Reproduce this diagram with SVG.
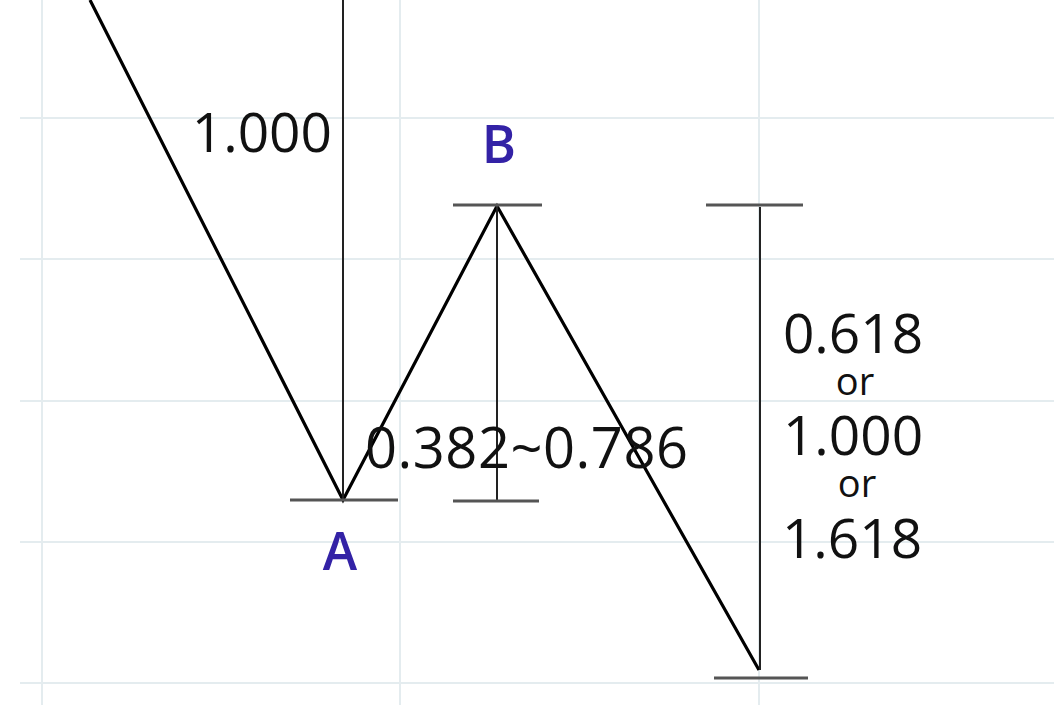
<svg xmlns="http://www.w3.org/2000/svg" width="1054" height="705" viewBox="0 0 1054 705">
<style>
.grid{stroke:#e4ecef;stroke-width:2;fill:none}
.zig{stroke:#000;stroke-width:3.2;fill:none;stroke-linejoin:miter}
.meas{stroke:#222;stroke-width:2;fill:none}
.tick{stroke:#555;stroke-width:3;fill:none}
.num{font-family:"Open Sans",sans-serif;font-size:55px;font-weight:500;fill:#111}
.or{font-family:"Open Sans",sans-serif;font-size:38px;font-weight:500;fill:#111}
.lbl{font-family:"Open Sans",sans-serif;font-size:52px;font-weight:600;fill:#3322a6}
</style>
<rect width="1054" height="705" fill="#fff"/>
<g id="grid">
<line class="grid" x1="42" y1="0" x2="42" y2="705"/>
<line class="grid" x1="400" y1="0" x2="400" y2="705"/>
<line class="grid" x1="759" y1="0" x2="759" y2="705"/>
<line class="grid" x1="20" y1="118" x2="1054" y2="118"/>
<line class="grid" x1="20" y1="259" x2="1054" y2="259"/>
<line class="grid" x1="20" y1="401" x2="1054" y2="401"/>
<line class="grid" x1="20" y1="542" x2="1054" y2="542"/>
<line class="grid" x1="20" y1="683" x2="1054" y2="683"/>
</g>
<g id="connectors">
<polyline class="zig" points="90,0 343,500 497,206 759,670"/>
<line class="meas" x1="343" y1="0" x2="343" y2="500"/>
<line class="meas" x1="497" y1="206" x2="497" y2="500"/>
<line class="meas" x1="760" y1="207" x2="760" y2="670"/>
</g>
<g id="ticks">
<line class="tick" x1="290" y1="500" x2="398" y2="500"/>
<line class="tick" x1="453" y1="205" x2="542" y2="205"/>
<line class="tick" x1="453" y1="501" x2="539" y2="501"/>
<line class="tick" x1="706" y1="205" x2="803" y2="205"/>
<line class="tick" x1="714" y1="678" x2="808" y2="678"/>
</g>
<g id="node-A"><text class="lbl" x="340" y="570" text-anchor="middle">A</text></g>
<g id="node-B"><text class="lbl" x="499" y="163" text-anchor="middle">B</text></g>
<g id="label-XA"><text class="num" x="332" y="152" text-anchor="end">1.000</text></g>
<g id="label-AB"><text class="num" x="365" y="468" style="font-size:56px" textLength="323" lengthAdjust="spacing">0.382~0.786</text></g>
<g id="label-CD">
<text class="num" x="853" y="353" text-anchor="middle">0.618</text>
<text class="or" x="855" y="395" text-anchor="middle">or</text>
<text class="num" x="853" y="455" text-anchor="middle">1.000</text>
<text class="or" x="857" y="497" text-anchor="middle">or</text>
<text class="num" x="852" y="558" text-anchor="middle">1.618</text>
</g>
</svg>
